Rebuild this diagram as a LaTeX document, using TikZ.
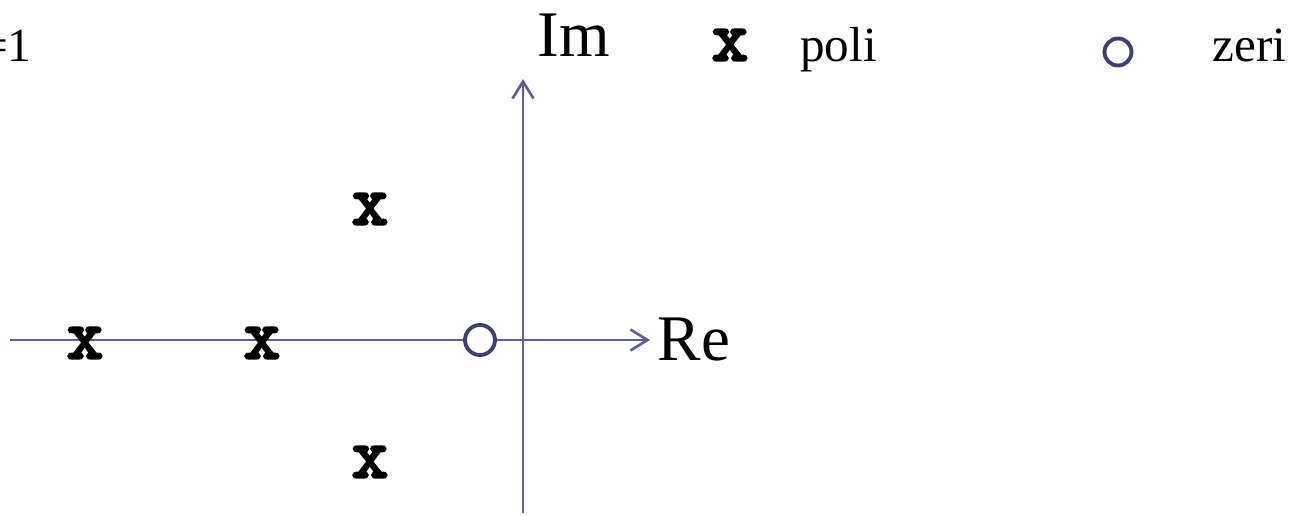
\documentclass[tikz,border=0pt]{standalone}
\usepackage{fontspec}
\setmainfont{Liberation Serif}
\newfontfamily\markfont{Latin Modern Mono}[FakeBold=4]
\usetikzlibrary{arrows.meta, positioning}
\definecolor{axiscol}{HTML}{5B5F97}
\definecolor{zerocol}{HTML}{3E3F6E}

\begin{document}
\begin{tikzpicture}[
  axis/.style={draw=axiscol, line width=1.5pt, -{Straight Barb[length=0.34cm, width=0.42cm]}},
  pole/.style={inner sep=0pt, font=\markfont\fontsize{40}{40}\selectfont},
  zero/.style={draw=zerocol, fill=white, circle, line width=2.2pt, inner sep=0pt, minimum size=0.6cm},
  big/.style={font=\fontsize{37}{37}\selectfont, inner sep=0pt},
  lab/.style={font=\fontsize{28}{28}\selectfont, inner sep=0pt}]
  \useasboundingbox (0,0) rectangle (25.94,10.3);

  \coordinate (reL) at (0.2,3.5);
  \coordinate (reR) at (13.0,3.5);
  \coordinate (imB) at (10.46,0.04);
  \coordinate (imT) at (10.46,8.72);
  \draw[axis] (reL) -- (reR);
  \draw[axis] (imB) -- (imT);

  \node[big, anchor=base west] (re) at (13.15,3.08) {Re};
  \node[big, anchor=base west] (im) at (10.74,9.16) {Im};

  \node[zero] (z1) at (9.6,3.5) {};
  \node[pole] (p1) at (1.7,3.44) {x};
  \node[pole] (p2) at (5.24,3.44) {x};
  \node[pole] (p3) at (7.4,6.12) {x};
  \node[pole] (p4) at (7.4,1.06) {x};

  % legenda
  \node[pole] (lp) at (14.6,9.4) {x};
  \node[lab, anchor=base west] (poli) at (16.0,9.06) {poli};
  \node[zero, minimum size=0.54cm] (lz) at (22.36,9.26) {};
  \node[lab, anchor=base west] (zeri) at (24.24,9.06) {zeri};
  \node[font=\fontsize{27}{27}\selectfont, inner sep=0pt, anchor=base east] (k) at (0.64,9.06) {=1};
\end{tikzpicture}
\end{document}
